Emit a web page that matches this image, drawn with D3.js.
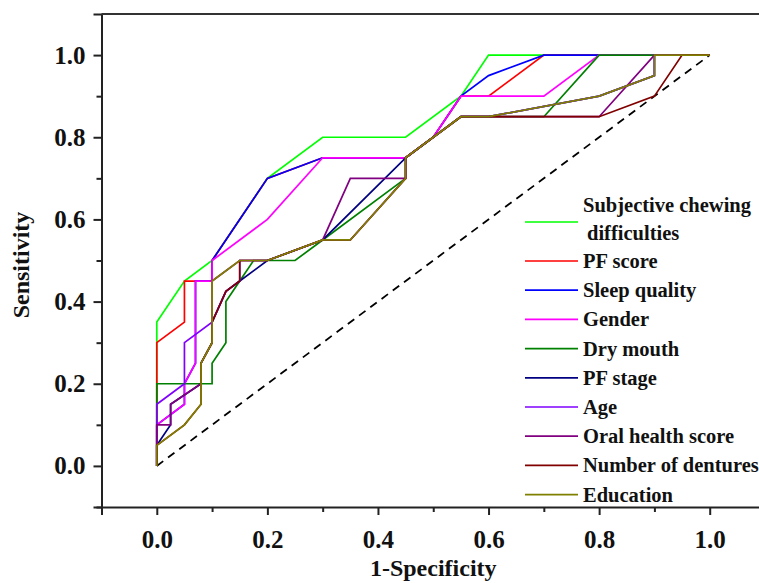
<!DOCTYPE html>
<html>
<head>
<meta charset="utf-8">
<script src="https://cdn.jsdelivr.net/npm/d3@7"></script>
<style>
  body { margin: 0; background: #fff; }
  svg { display: block; }
  text { font-family: "Liberation Serif", "Times New Roman", serif; font-weight: bold; fill: #111; }
</style>
</head>
<body>
<svg width="759" height="583"></svg>
<script>
// series names, in legend / drawing order
const names = [
    "Subjective chewing difficulties", "PF score", "Sleep quality", "Gender", "Dry mouth",
    "PF stage", "Age", "Oral health score", "Number of dentures", "Education"
];
const colors = ["#00ff00", "#ff0000", "#0000ff", "#ff00ff", "#008000",
                "#000080", "#8000ff", "#800080", "#800000", "#808000"];

// 1-specificity / sensitivity pairs
const chewingX = [0, 0, 0.05, 0.1, 0.2, 0.3, 0.45, 0.55, 0.6, 1];
const chewingY = [0, 0.35, 0.45, 0.5, 0.7, 0.8, 0.8, 0.9, 1, 1];

const pfScoreX = [0, 0, 0.05, 0.05, 0.07, 0.1, 0.1, 0.2, 0.3, 0.45, 0.5, 0.55, 0.6, 0.7, 1];
const pfScoreY = [0, 0.3, 0.35, 0.45, 0.45, 0.45, 0.5, 0.7, 0.75, 0.75, 0.8, 0.9, 0.9, 1, 1];

const sleepX = [0, 0, 0.05, 0.05, 0.07, 0.07, 0.1, 0.1, 0.2, 0.3, 0.45, 0.5, 0.55, 0.6, 0.7, 1];
const sleepY = [0, 0.1, 0.15, 0.2, 0.25, 0.45, 0.45, 0.5, 0.7, 0.75, 0.75, 0.8, 0.9, 0.95, 1, 1];

const genderX = [0, 0, 0.05, 0.05, 0.07, 0.07, 0.1, 0.1, 0.2, 0.3, 0.45, 0.5, 0.55, 0.7, 0.8, 1];
const genderY = [0, 0.1, 0.15, 0.2, 0.25, 0.45, 0.45, 0.5, 0.6, 0.75, 0.75, 0.8, 0.9, 0.9, 1, 1];

const dryX = [0, 0, 0.1, 0.1, 0.125, 0.125, 0.15, 0.175, 0.25, 0.3, 0.45, 0.45, 0.55, 0.7, 0.8, 1];
const dryY = [0, 0.2, 0.2, 0.25, 0.3, 0.4, 0.45, 0.5, 0.5, 0.55, 0.7, 0.75, 0.85, 0.85, 1, 1];

const stageX = [0, 0, 0.025, 0.025, 0.08, 0.08, 0.1, 0.1, 0.125, 0.15, 0.2, 0.3, 0.45, 0.55, 0.6, 0.8, 0.9, 0.9, 1];
const stageY = [0, 0.05, 0.1, 0.15, 0.2, 0.25, 0.3, 0.35, 0.425, 0.45, 0.5, 0.55, 0.75, 0.85, 0.85, 0.9, 0.95, 1, 1];

const ageX = [0, 0, 0.05, 0.05, 0.1, 0.125, 0.15, 0.15, 0.2, 0.3, 0.35, 0.45, 0.45, 0.55, 0.6, 0.8, 0.9, 0.9, 1];
const ageY = [0, 0.15, 0.2, 0.3, 0.35, 0.425, 0.45, 0.5, 0.5, 0.55, 0.55, 0.7, 0.75, 0.85, 0.85, 0.9, 0.95, 1, 1];

const oralX = [0, 0, 0.025, 0.025, 0.08, 0.08, 0.1, 0.1, 0.15, 0.2, 0.3, 0.35, 0.45, 0.45, 0.55, 0.8, 0.9, 1];
const oralY = [0, 0.1, 0.1, 0.15, 0.2, 0.25, 0.3, 0.45, 0.5, 0.5, 0.55, 0.7, 0.7, 0.75, 0.85, 0.85, 1, 1];

const denturesX = [0, 0, 0.05, 0.08, 0.08, 0.1, 0.1, 0.125, 0.15, 0.15, 0.2, 0.3, 0.35, 0.45, 0.45, 0.55, 0.8, 0.9, 0.95, 1];
const denturesY = [0, 0.05, 0.1, 0.15, 0.25, 0.3, 0.35, 0.425, 0.45, 0.5, 0.5, 0.55, 0.55, 0.7, 0.75, 0.85, 0.85, 0.9, 1, 1];

const educationX = [0, 0, 0.05, 0.08, 0.08, 0.1, 0.1, 0.15, 0.2, 0.3, 0.35, 0.45, 0.45, 0.55, 0.6, 0.8, 0.9, 0.9, 1];
const educationY = [0, 0.05, 0.1, 0.15, 0.25, 0.3, 0.45, 0.5, 0.5, 0.55, 0.55, 0.7, 0.75, 0.85, 0.85, 0.9, 0.95, 1, 1];

const seriesX = [chewingX, pfScoreX, sleepX, genderX, dryX, stageX, ageX, oralX, denturesX, educationX];
const seriesY = [chewingY, pfScoreY, sleepY, genderY, dryY, stageY, ageY, oralY, denturesY, educationY];

const majorTicks = [0, 0.2, 0.4, 0.6, 0.8, 1.0];
const minorTicks = [-0.1, 0.1, 0.3, 0.5, 0.7, 0.9];

const svg = d3.select("svg");

const x = d3.scaleLinear().domain([-0.1, 1.1]).range([101.5, 765]);
const y = d3.scaleLinear().domain([-0.1, 1.1]).range([507, 14]);

// reference diagonal
svg.append("line")
    .attr("x1", x(0)).attr("y1", y(0))
    .attr("x2", x(1)).attr("y2", y(1))
    .attr("stroke", "#000")
    .attr("stroke-width", 1.8)
    .attr("stroke-dasharray", "8,6");

const line = d3.line()
    .x(d => x(d[0]))
    .y(d => y(d[1]));

// curves, later series on top
names.forEach((name, i) => {
    const pts = seriesX[i].map((v, j) => [v, seriesY[i][j]]);
    svg.append("path")
        .datum(pts)
        .attr("fill", "none")
        .attr("stroke", colors[i])
        .attr("stroke-width", 1.7)
        .attr("d", line);
});

// axes
const fmt = d3.format(".1f");

svg.append("g")
    .attr("transform", `translate(0,${y(-0.1)})`)
    .call(d3.axisBottom(x).tickValues(majorTicks).tickFormat(fmt).tickSize(8).tickPadding(15));
svg.append("g")
    .attr("transform", `translate(0,${y(-0.1)})`)
    .call(d3.axisBottom(x).tickValues(minorTicks).tickFormat("").tickSize(5))
    .select(".domain").remove();

svg.append("g")
    .attr("transform", `translate(${x(-0.1)},0)`)
    .call(d3.axisLeft(y).tickValues(majorTicks).tickFormat(fmt).tickSize(8).tickPadding(8));
svg.append("g")
    .attr("transform", `translate(${x(-0.1)},0)`)
    .call(d3.axisLeft(y).tickValues(minorTicks).tickFormat("").tickSize(5))
    .select(".domain").remove();

svg.selectAll(".domain, .tick line")
    .attr("stroke", "#222")
    .attr("stroke-width", 2);
svg.selectAll(".tick text")
    .style("font-size", "25px")
    .style("font-family", '"Liberation Serif", serif')
    .style("font-weight", "bold")
    .attr("fill", "#111");

// top frame
svg.append("line")
    .attr("x1", x(-0.1)).attr("y1", y(1.1))
    .attr("x2", x(1.1)).attr("y2", y(1.1))
    .attr("stroke", "#333")
    .attr("stroke-width", 2);

// axis titles
svg.append("text")
    .attr("x", (x(-0.1) + x(1.1)) / 2)
    .attr("y", 576)
    .attr("text-anchor", "middle")
    .style("font-size", "24px")
    .text("1-Specificity");

svg.append("text")
    .attr("transform", "translate(29,265) rotate(-90)")
    .attr("text-anchor", "middle")
    .style("font-size", "24px")
    .text("Sensitivity");

// legend
const legend = svg.append("g");
const rowY = i => i === 0 ? 222 : 261 + (i - 1) * 29.2;

names.forEach((name, i) => {
    const cy = rowY(i);
    legend.append("line")
        .attr("x1", 525).attr("x2", 578)
        .attr("y1", cy).attr("y2", cy)
        .attr("stroke", colors[i])
        .attr("stroke-width", 1.7);
    if (i === 0) {
        legend.append("text").attr("x", 583).attr("y", cy - 10)
            .style("font-size", "20.5px").text("Subjective chewing");
        legend.append("text").attr("x", 587).attr("y", cy + 18)
            .style("font-size", "20.5px").text("difficulties");
    } else {
        legend.append("text").attr("x", 583).attr("y", cy + 7)
            .style("font-size", "20.5px").text(name);
    }
});
</script>
</body>
</html>
